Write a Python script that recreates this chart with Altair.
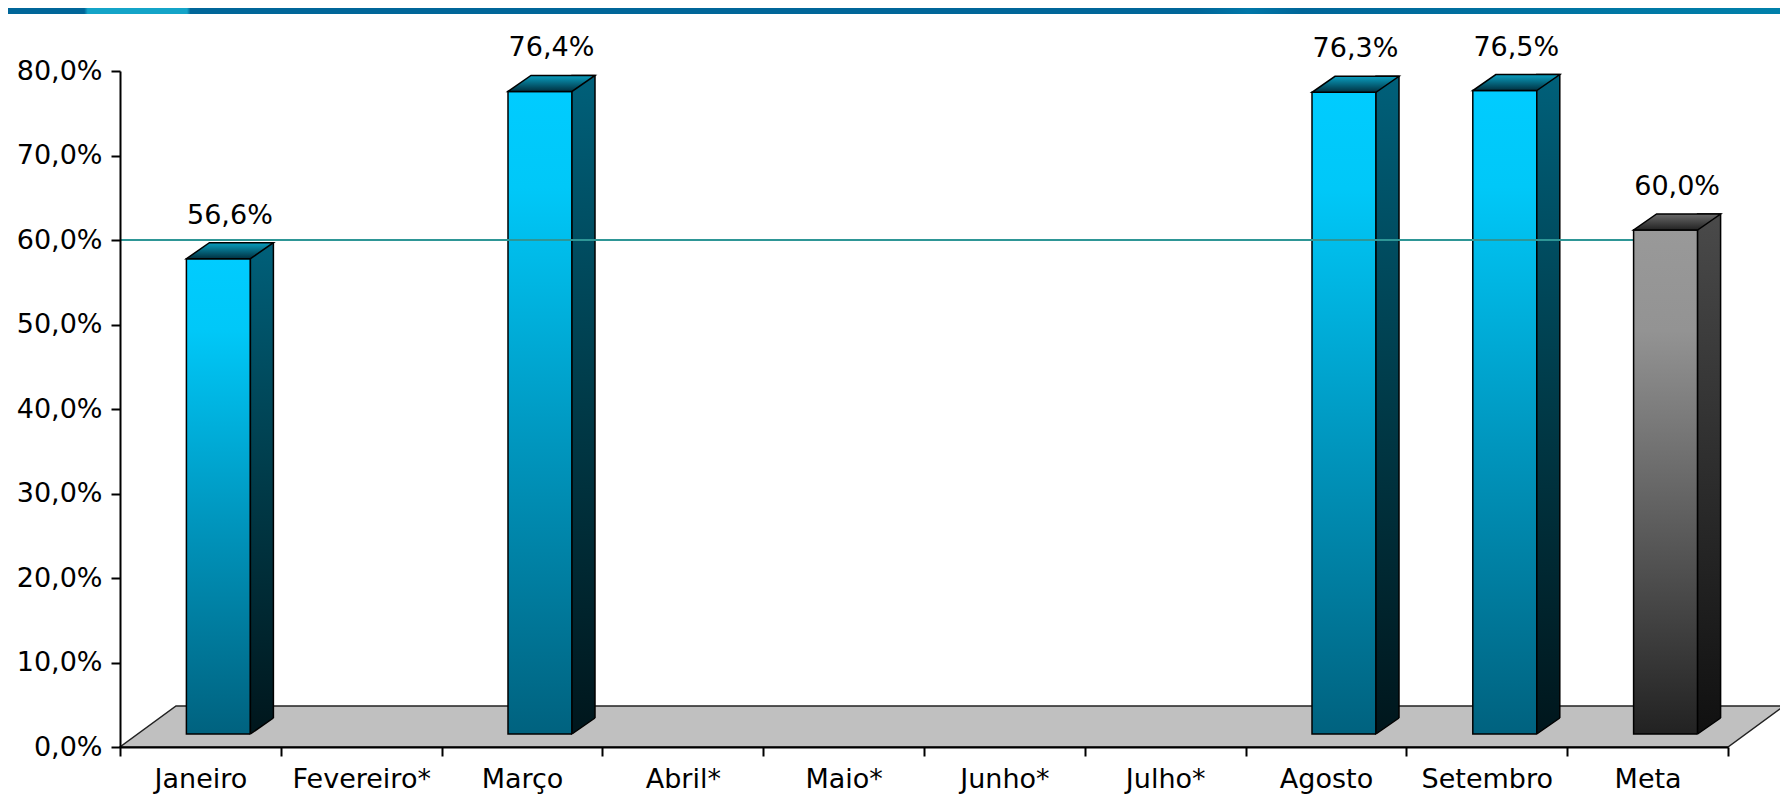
import altair as alt
import pandas as pd

# ---- data ----
meses = ["Janeiro", "Fevereiro*", "Março", "Abril*", "Maio*", "Junho*",
         "Julho*", "Agosto", "Setembro", "Meta"]
valores = [0.566, None, 0.764, None, None, None, None, 0.763, 0.765, 0.600]
tipos = ["real"] * 9 + ["meta"]
meta_linha = 0.60
y_ticks = [0.0, 0.1, 0.2, 0.3, 0.4, 0.5, 0.6, 0.7, 0.8]

# ---- layout / style ----
PW, PH = 1608, 676
PAD = {"left": 112, "top": 63, "right": 52, "bottom": 50}
FW, FX, DX, DY = 64, 18, 23, 16          # front width, x shift, depth
TOP_OFF, BOT_OFF = -10, -13
FONT = "DejaVu Sans"
FLOOR = "#C0C0C0"

df = pd.DataFrame({"mes": meses, "valor": valores, "tipo": tipos})
um = pd.DataFrame({"k": [0]})

x_scale = alt.Scale(domain=meses, paddingInner=0, paddingOuter=0)
y_scale = alt.Scale(domain=[0, 0.8], nice=False, zero=True)

x_axis = alt.Axis(title=None, tickBand="extent", labelAngle=0, labelFont=FONT,
                  labelFontSize=27, labelColor="#000", domainColor="#000",
                  domainWidth=2, tickColor="#000", tickWidth=2, tickSize=9,
                  labelPadding=10, grid=False, zindex=1)
y_axis = alt.Axis(title=None, values=y_ticks,
                  labelExpr="replace(format(datum.value, '.1%'), '.', ',')",
                  labelFont=FONT, labelFontSize=27, labelColor="#000",
                  domainColor="#000", domainWidth=2, tickColor="#000",
                  tickWidth=2, tickSize=9, labelPadding=9, grid=False, zindex=1)

X = alt.X("mes:N", scale=x_scale, axis=x_axis)
Y = alt.Y("valor:Q", scale=y_scale, axis=y_axis)
Y0 = alt.Y(datum=0, type="quantitative", scale=y_scale, axis=y_axis)


def vgrad(stops):
    return alt.Gradient(gradient="linear", x1=0, x2=0, y1=0, y2=1,
                        stops=[alt.GradientStop(offset=o, color=c) for o, c in stops])


top_path = f"M{-FW/2} 0 L{FW/2} 0 L{FW/2+DX} {-DY} L{-FW/2+DX} {-DY} Z"
cover_path = f"M{FW/2} 0 L{FW/2+DX} {-DY} L{FW/2+DX+2} {-DY} L{FW/2+DX+2} 2 L{FW/2} 2 Z"
diag_path = f"M{FW/2} 0 L{FW/2+DX} {-DY}"


def barras(filtro, g_front, g_side, g_top):
    b = alt.Chart(df).transform_filter("isValid(datum.valor) && " + filtro)
    front = b.mark_bar(width=FW, xOffset=FX, yOffset=TOP_OFF, y2Offset=BOT_OFF,
                       fill=g_front, stroke="#000", strokeWidth=1.5).encode(
        x=X, y=Y, y2=alt.datum(0))
    side = b.mark_bar(width=DX, xOffset=FX + FW / 2 + DX / 2,
                      yOffset=TOP_OFF - DY, y2Offset=BOT_OFF,
                      fill=g_side, stroke="#000", strokeWidth=1.5).encode(
        x=X, y=Y, y2=alt.datum(0))
    cover = b.mark_point(shape=cover_path, size=4, filled=True, fill=FLOOR,
                         strokeWidth=0, opacity=1, xOffset=FX,
                         yOffset=BOT_OFF).encode(x=X, y=Y0)
    diag = b.mark_point(shape=diag_path, size=4, filled=False, stroke="#000",
                        strokeWidth=1.5, opacity=1, xOffset=FX,
                        yOffset=BOT_OFF).encode(x=X, y=Y0)
    top = b.mark_point(shape=top_path, size=4, filled=True, fill=g_top,
                       stroke="#000", strokeWidth=1.5, opacity=1, xOffset=FX,
                       yOffset=TOP_OFF).encode(x=X, y=Y)
    return [front, side, cover, diag, top]


azul = barras("datum.tipo == 'real'",
              vgrad([(0, "#00CCFF"), (0.15, "#00C8F8"), (0.55, "#0096BE"), (1, "#00627F")]),
              vgrad([(0, "#00607A"), (0.5, "#003A48"), (1, "#00161C")]),
              vgrad([(0, "#0A9FC0"), (1, "#003040")]))
cinza = barras("datum.tipo == 'meta'",
               vgrad([(0, "#999999"), (0.2, "#939393"), (1, "#222222")]),
               vgrad([(0, "#4A4A4A"), (1, "#101010")]),
               vgrad([(0, "#6A6A6A"), (1, "#222222")]))

floor_path = f"M0 0 L{PW} 0 L{PW+56} -41 L56 -41 Z"
piso = alt.Chart(um).mark_point(shape=floor_path, size=4, filled=True,
                                fill=FLOOR, stroke="#222", strokeWidth=1.5,
                                opacity=1).encode(x=alt.value(0), y=Y0)

band_grad = alt.Gradient(gradient="linear", x1=0, x2=1, y1=0, y2=0, stops=[
    alt.GradientStop(offset=0, color="#006699"),
    alt.GradientStop(offset=0.043, color="#006699"),
    alt.GradientStop(offset=0.045, color="#14A4C8"),
    alt.GradientStop(offset=0.101, color="#14A4C8"),
    alt.GradientStop(offset=0.103, color="#006699"),
    alt.GradientStop(offset=0.67, color="#006699"),
    alt.GradientStop(offset=0.70, color="#0077A8"),
    alt.GradientStop(offset=0.73, color="#006699"),
    alt.GradientStop(offset=1, color="#0080AA"),
])
banda = alt.Chart(um).mark_rect(fill=band_grad).encode(
    x=alt.value(-PAD["left"]), x2=alt.value(PW + PAD["right"]),
    y=alt.value(-PAD["top"]), y2=alt.value(-PAD["top"] + 6))

regra = alt.Chart(um).mark_rule(color="#2E9696", strokeWidth=2,
                                x2Offset=FX - FW / 2).encode(
    x=alt.X(datum="Janeiro", type="nominal", bandPosition=0, scale=x_scale, axis=x_axis),
    x2=alt.datum("Meta"),
    y=alt.Y(datum=meta_linha, type="quantitative", scale=y_scale, axis=y_axis))

rotulos = alt.Chart(df).transform_filter("isValid(datum.valor)").transform_calculate(
    rotulo="replace(format(datum.valor, '.1%'), '.', ',')"
).mark_text(font=FONT, fontSize=27, color="#000", align="center",
            baseline="alphabetic", xOffset=FX + DX / 2, yOffset=-45).encode(
    x=X, y=Y, text="rotulo:N")

chart = alt.layer(banda, piso, *azul, regra, *cinza, rotulos).properties(
    width=PW, height=PH,
    autosize=alt.AutoSizeParams(type="none"),
    padding=PAD,
    background="white",
).configure_view(stroke="transparent", strokeWidth=0)

chart.save("out.html", embed_options={"renderer": "svg", "actions": False})
